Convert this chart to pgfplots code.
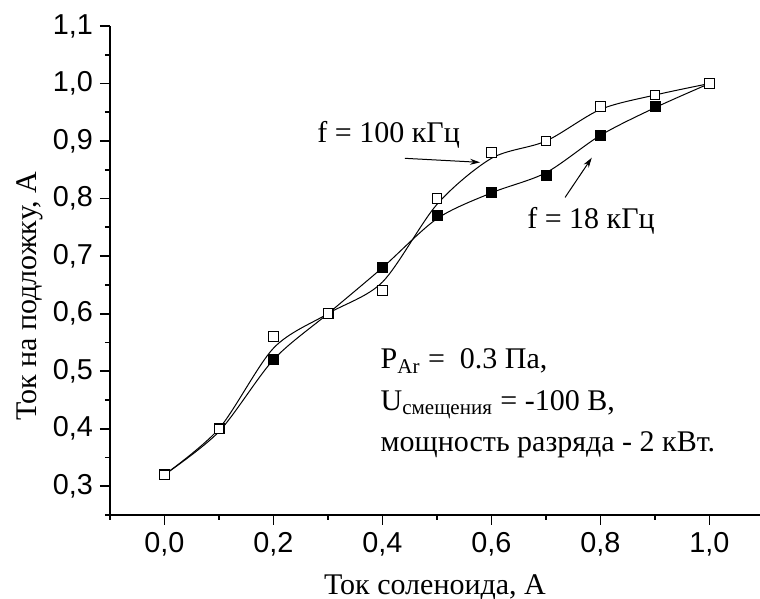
\documentclass[border=0pt]{standalone}
\usepackage{fontspec}
\setmainfont{Liberation Serif}
\newfontfamily\arialfont{Liberation Sans}
\usepackage{pgfplots}
\pgfplotsset{compat=1.18}
\usetikzlibrary{arrows.meta}

\begin{document}
\begin{tikzpicture}
\useasboundingbox (-55pt,-42pt) rectangle (325pt,257.5pt);
\begin{axis}[
  scale only axis, width=325pt, height=244.5pt,
  xmin=-0.1, xmax=1.0927, ymin=0.25, ymax=1.1,
  axis x line*=bottom, axis y line*=left,
  axis line style={line width=0.9pt, black},
  tick align=outside,
  major tick length=5pt, minor tick length=2.5pt,
  every tick/.style={line width=0.9pt, black},
  xtick={0,0.2,0.4,0.6,0.8,1.0},
  minor xtick={-0.1,0.1,0.3,0.5,0.7,0.9},
  ytick={0.3,0.4,0.5,0.6,0.7,0.8,0.9,1.0,1.1},
  minor ytick={0.25,0.35,0.45,0.55,0.65,0.75,0.85,0.95,1.05},
  ticklabel style={font=\arialfont\fontsize{14.4}{17}\selectfont},
  /pgf/number format/use comma,
  /pgf/number format/fixed,
  /pgf/number format/fixed zerofill,
  /pgf/number format/precision=1,
  /pgf/number format/assume math mode=true,
  label style={font=\fontsize{15}{18}\selectfont},
  xlabel={Ток соленоида, А},
  ylabel={Ток на подложку, А},
  xlabel style={at={(axis description cs:0.5,-0.1616)}, anchor=base},
  ylabel style={at={(axis description cs:-0.1123,0.447)}, anchor=base},
  clip=false,
]
% f = 18 kHz (filled squares)
\addplot[black, line width=0.5pt, smooth] coordinates {
  (0,0.32) (0.1,0.395) (0.2,0.52) (0.3,0.60) (0.4,0.68) (0.5,0.765)
  (0.6,0.81) (0.7,0.845) (0.8,0.91) (0.9,0.958) (1.0,1.0)};
\addplot[only marks, mark=square*, mark size=2.5pt,
  mark options={fill=black, draw=black}] coordinates {
  (0,0.32) (0.1,0.40) (0.2,0.52) (0.3,0.60) (0.4,0.68) (0.5,0.77)
  (0.6,0.81) (0.7,0.84) (0.8,0.91) (0.9,0.96) (1.0,1.00)};
% f = 100 kHz (open squares)
\addplot[black, line width=0.5pt, smooth] coordinates {
  (0,0.32) (0.1,0.40) (0.2,0.54) (0.3,0.60) (0.4,0.655) (0.5,0.79)
  (0.6,0.87) (0.7,0.90) (0.8,0.955) (0.9,0.98) (1.0,1.0)};
\addplot[only marks, mark=square*, mark size=2.35pt,
  mark options={fill=white, draw=black, line width=0.5pt}] coordinates {
  (0,0.32) (0.1,0.40) (0.2,0.56) (0.3,0.60) (0.4,0.64) (0.5,0.80)
  (0.6,0.88) (0.7,0.90) (0.8,0.96) (0.9,0.98) (1.0,1.00)};

\node[anchor=base west, inner sep=0, font=\fontsize{15}{18}\selectfont]
  at (axis cs:0.28,0.898) {f = 100 кГц};
\node[anchor=base west, inner sep=0, font=\fontsize{15}{18}\selectfont]
  at (axis cs:0.665,0.748) {f = 18 кГц};
\draw[-{Stealth[length=5pt,width=3pt]}, line width=0.5pt]
  (axis cs:0.441,0.870) -- (axis cs:0.579,0.863);
\draw[-{Stealth[length=5pt,width=3pt]}, line width=0.5pt]
  (axis cs:0.735,0.802) -- (axis cs:0.784,0.871);

\node[anchor=base west, inner sep=0, font=\fontsize{15}{18}\selectfont]
  at (axis cs:0.396,0.504) {P\textsubscript{Ar} = \ 0.3 Па,};
\node[anchor=base west, inner sep=0, font=\fontsize{15}{18}\selectfont]
  at (axis cs:0.396,0.432) {U\textsubscript{смещения} = -100 В,};
\node[anchor=base west, inner sep=0, font=\fontsize{15}{18}\selectfont]
  at (axis cs:0.396,0.361) {мощность\ разряда\ - 2 кВт.};
\end{axis}
\end{tikzpicture}
\end{document}
